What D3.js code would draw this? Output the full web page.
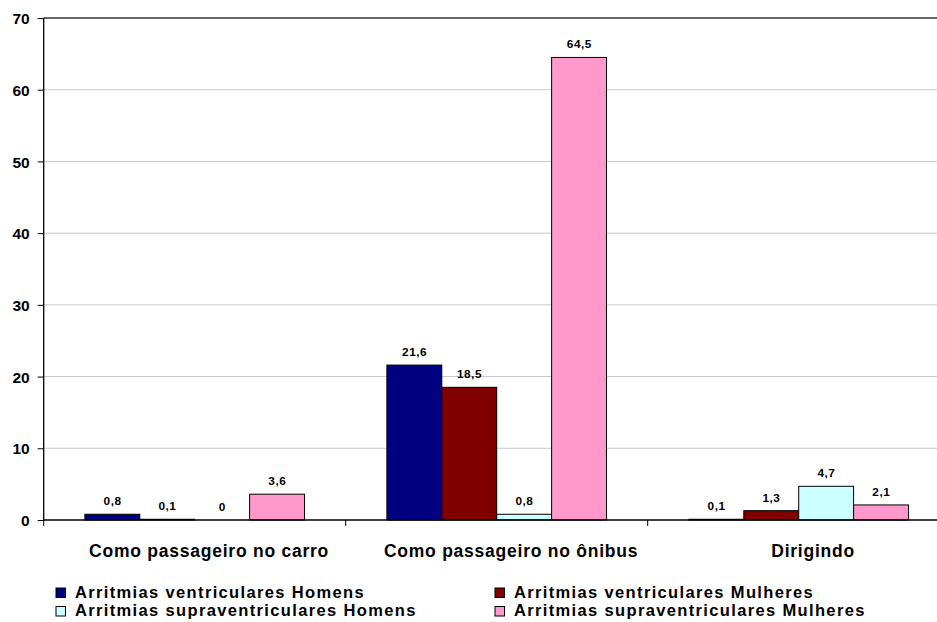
<!DOCTYPE html>
<html>
<head>
<meta charset="utf-8">
<script src="https://cdn.jsdelivr.net/npm/d3@7"></script>
<style>
  html, body { margin: 0; padding: 0; background: #fff; }
  svg { display: block; }
</style>
</head>
<body>
<svg id="chart" width="937" height="622"></svg>
<script>
// Categories and series
const categories = ["Como passageiro no carro", "Como passageiro no ônibus", "Dirigindo"];
const seriesNames = [
  "Arritmias ventriculares Homens",
  "Arritmias ventriculares Mulheres",
  "Arritmias supraventriculares Homens",
  "Arritmias supraventriculares Mulheres"
];
const ventricularHomens = [0.8, 21.6, 0.1];
const ventricularMulheres = [0.1, 18.5, 1.3];
const supraHomens = [0, 0.8, 4.7];
const supraMulheres = [3.6, 64.5, 2.1];
const seriesColors = ["#000080", "#800000", "#CCFFFF", "#FF99CC"];
const yTicks = [0, 10, 20, 30, 40, 50, 60, 70];

const seriesValues = [ventricularHomens, ventricularMulheres, supraHomens, supraMulheres];

const FONT = "Liberation Sans, Arial, sans-serif";
const svg = d3.select("#chart");
const plotLeft = 43.7, plotTop = 18, plotBottom = 520;
const catWidth = 302;

const x = d3.scaleBand().domain(categories).range([plotLeft, plotLeft + catWidth * categories.length]).paddingInner(0).paddingOuter(0);
const xInner = d3.scaleBand().domain(d3.range(seriesNames.length)).range([0, catWidth]).paddingInner(0).paddingOuter(0.75);
const y = d3.scaleLinear().domain([0, 70]).range([plotBottom, plotTop]);

const fmt = v => String(v).replace(".", ",");

// letter-spacing needed for a text node to reach a target width
function fitSpacing(sel, target) {
  const node = sel.node();
  const w = node.getComputedTextLength();
  const n = node.textContent.length;
  return (target - w) / n;
}

// gridlines
svg.append("g").selectAll("line").data(yTicks.filter(t => t > 0 && t < 70)).join("line")
  .attr("x1", plotLeft).attr("x2", 937)
  .attr("y1", d => y(d)).attr("y2", d => y(d))
  .attr("stroke", "#c8c8c8").attr("stroke-width", 1);
// top line
svg.append("line").attr("x1", plotLeft).attr("x2", 937).attr("y1", y(70)).attr("y2", y(70))
  .attr("stroke", "#333").attr("stroke-width", 1.3);

// bars
const groups = svg.append("g").selectAll("g").data(categories).join("g")
  .attr("transform", d => `translate(${x(d)},0)`);

groups.each(function(cat, ci) {
  const g = d3.select(this);
  seriesValues.forEach((vals, si) => {
    const v = vals[ci];
    const bx = xInner(si);
    const bw = xInner.bandwidth();
    if (v > 0) {
      g.append("rect")
        .attr("x", bx).attr("y", y(v))
        .attr("width", bw).attr("height", y(0) - y(v))
        .attr("fill", seriesColors[si])
        .attr("stroke", "#000").attr("stroke-width", 1);
    }
    g.append("text")
      .attr("x", bx + bw / 2 + 0.25).attr("y", y(v) - 9)
      .attr("text-anchor", "middle")
      .attr("font-family", FONT).attr("font-weight", "bold")
      .attr("font-size", 11.8).attr("letter-spacing", 0.5)
      .attr("fill", "#000")
      .text(fmt(v));
  });
});

// y axis
const yAxis = d3.axisLeft(y).tickValues(yTicks).tickSize(6).tickPadding(8);
const yg = svg.append("g").attr("transform", `translate(${plotLeft},0)`).call(yAxis);
yg.select(".domain").attr("stroke", "#000").attr("stroke-width", 1.3).attr("d", `M0,${y(70)}V${y(0)}`);
yg.selectAll(".tick line").attr("stroke", "#000");
yg.selectAll(".tick text").attr("font-size", 15.5).attr("fill", "#000")
  .attr("font-family", FONT).attr("font-weight", "bold").attr("dy", "0.36em");

// x axis
svg.append("line").attr("x1", plotLeft).attr("x2", 937).attr("y1", y(0)).attr("y2", y(0))
  .attr("stroke", "#000").attr("stroke-width", 1.3);
svg.append("g").selectAll("line").data(categories).join("line")
  .attr("x1", d => x(d)).attr("x2", d => x(d))
  .attr("y1", y(0)).attr("y2", y(0) + 6)
  .attr("stroke", "#000");
const catLabels = svg.append("g").selectAll("text").data(categories).join("text")
  .attr("x", d => x(d) + catWidth / 2 + 14)
  .attr("y", 557)
  .attr("text-anchor", "middle")
  .attr("font-family", FONT).attr("font-weight", "bold")
  .attr("font-size", 17.5).attr("fill", "#000")
  .text(d => d);
const catSpacing = fitSpacing(catLabels.filter((d, i) => i === 0), 240);
catLabels.attr("letter-spacing", catSpacing)
  .attr("x", d => x(d) + catWidth / 2 + 14 + catSpacing / 2);

// legend
const legendPos = [[56, 597.5], [495, 597.5], [56, 616], [495, 616]];
const lg = svg.append("g").selectAll("g").data(seriesNames).join("g")
  .attr("transform", (d, i) => `translate(${legendPos[i][0]},${legendPos[i][1]})`);
lg.append("rect").attr("x", 0).attr("y", -9.5).attr("width", 9.5).attr("height", 9.5)
  .attr("fill", (d, i) => seriesColors[i]).attr("stroke", "#000").attr("stroke-width", 1);
const legTexts = lg.append("text").attr("x", 19).attr("y", 0)
  .attr("font-family", FONT).attr("font-weight", "bold")
  .attr("font-size", 16.5).attr("fill", "#000")
  .text(d => d);
const legSpacing = fitSpacing(legTexts.filter((d, i) => i === 0), 290);
legTexts.attr("letter-spacing", legSpacing);
</script>
</body>
</html>
